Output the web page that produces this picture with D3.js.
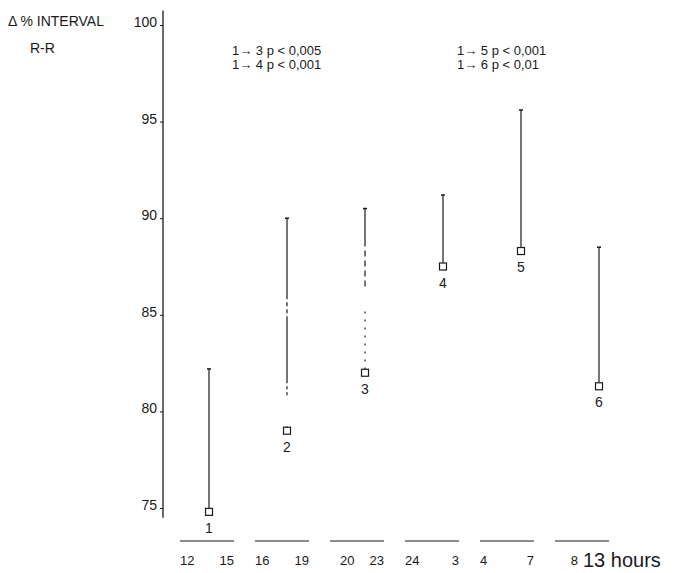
<!DOCTYPE html>
<html>
<head>
<meta charset="utf-8">
<script src="https://cdn.jsdelivr.net/npm/d3@7"></script>
<style>
  body { margin: 0; background: #fff; }
  svg { display: block; font-family: "Liberation Sans", Arial, sans-serif; }
</style>
</head>
<body>
<svg id="chart" width="690" height="573"></svg>
<script>
// six time bins, mean R-R interval (square) and upper whisker end
const groups = ['1', '2', '3', '4', '5', '6'];
const means = [74.8, 79.0, 82.0, 87.5, 88.3, 81.3];
const uppers = [82.2, 90.0, 90.5, 91.2, 95.6, 88.5];
const binStart = ['12', '16', '20', '24', '4', '8'];
const binEnd = ['15', '19', '23', '3', '7', '13 hours'];
const yTicks = [75, 80, 85, 90, 95, 100];
const notesLeft = ['1\u2192 3 p < 0,005', '1\u2192 4 p < 0,001'];
const notesRight = ['1\u2192 5 p < 0,001', '1\u2192 6 p < 0,01'];

// broken print of some whiskers (style only)
const dashes = {
  '2': '81,3,4,3,4,3,67,3,3,3,3,31',
  '3': '38,4,6,4,6,4,6,4,6,25,2,6,2,6,2,6,2,6,2,6,2,6,2,6'
};

const ink = '#1a1a1a';
const svg = d3.select('#chart');

const y = d3.scaleLinear().domain([75, 100]).range([508, 25]);
const x = d3.scalePoint().domain(groups).range([209, 599]);
const band = d3.scaleBand().domain(groups).range([180, 609]).paddingInner(0.28).paddingOuter(0);

// y axis
const yAxis = svg.append('g')
  .attr('transform', 'translate(163,0)')
  .call(d3.axisLeft(y).tickValues(yTicks).tickSize(3).tickPadding(3));
yAxis.select('.domain').remove();
yAxis.selectAll('line').attr('stroke', ink).attr('stroke-width', 1);
yAxis.selectAll('text')
  .attr('fill', ink)
  .attr('font-size', 14)
  .attr('font-family', '"Liberation Sans", Arial, sans-serif')
  .attr('y', -3);

svg.append('line')
  .attr('x1', 163).attr('x2', 163)
  .attr('y1', y(100.75)).attr('y2', y(74.5))
  .attr('stroke', ink).attr('stroke-width', 1.3);

svg.append('text').attr('x', 8).attr('y', 26)
  .attr('font-size', 14).attr('fill', ink)
  .text('\u0394 % INTERVAL');
svg.append('text').attr('x', 30).attr('y', 53)
  .attr('font-size', 14).attr('fill', ink)
  .text('R-R');

// p-value notes
[[notesLeft, 232], [notesRight, 457]].forEach(([lines, xPos]) => {
  svg.append('g').selectAll('text').data(lines).join('text')
    .attr('x', xPos)
    .attr('y', (d, i) => 55 + i * 14)
    .attr('font-size', 13)
    .attr('fill', ink)
    .text(d => d);
});

// whiskers
const rows = groups.map((g, i) => ({ g, mean: means[i], upper: uppers[i] }));
const marks = svg.append('g');

marks.selectAll('path.whisker').data(rows).join('path')
  .attr('class', 'whisker')
  .attr('d', d => `M${x(d.g)},${y(d.upper)}V${y(d.mean) - 3.5}`)
  .attr('fill', 'none')
  .attr('stroke', ink)
  .attr('stroke-width', 1.2)
  .attr('stroke-dasharray', d => dashes[d.g] || null);

marks.selectAll('line.cap').data(rows).join('line')
  .attr('class', 'cap')
  .attr('x1', d => x(d.g) - 2).attr('x2', d => x(d.g) + 2)
  .attr('y1', d => y(d.upper)).attr('y2', d => y(d.upper))
  .attr('stroke', ink).attr('stroke-width', 1.5);

marks.selectAll('rect').data(rows).join('rect')
  .attr('x', d => x(d.g) - 3.5)
  .attr('y', d => y(d.mean) - 3.5)
  .attr('width', 7).attr('height', 7)
  .attr('fill', '#fff')
  .attr('stroke', ink).attr('stroke-width', 1.2);

marks.selectAll('text').data(rows).join('text')
  .attr('x', d => x(d.g))
  .attr('y', d => y(d.mean) + 21)
  .attr('text-anchor', 'middle')
  .attr('font-size', 14)
  .attr('fill', ink)
  .text(d => d.g);

// time bins along the bottom
const bins = svg.append('g');
bins.selectAll('line').data(groups).join('line')
  .attr('x1', d => band(d)).attr('x2', d => band(d) + band.bandwidth())
  .attr('y1', 541).attr('y2', 541)
  .attr('stroke', ink).attr('stroke-width', 1.2);

const last = groups[groups.length - 1];
bins.selectAll('text.start').data(groups).join('text')
  .attr('class', 'start')
  .attr('x', d => d === last ? band(d) + band.bandwidth() - 31 : band(d) + (d === '3' ? 10 : 0))
  .attr('y', 565)
  .attr('text-anchor', d => d === last ? 'end' : 'start')
  .attr('font-size', 13)
  .attr('fill', ink)
  .text((d, i) => binStart[i]);

bins.selectAll('text.end').data(groups).join('text')
  .attr('class', 'end')
  .attr('x', d => d === last ? band(d) + band.bandwidth() - 26 : band(d) + band.bandwidth())
  .attr('y', d => d === last ? 567 : 565)
  .attr('text-anchor', d => d === last ? 'start' : 'end')
  .attr('font-size', d => d === last ? 20 : 13)
  .attr('fill', ink)
  .text((d, i) => binEnd[i]);
</script>
</body>
</html>
